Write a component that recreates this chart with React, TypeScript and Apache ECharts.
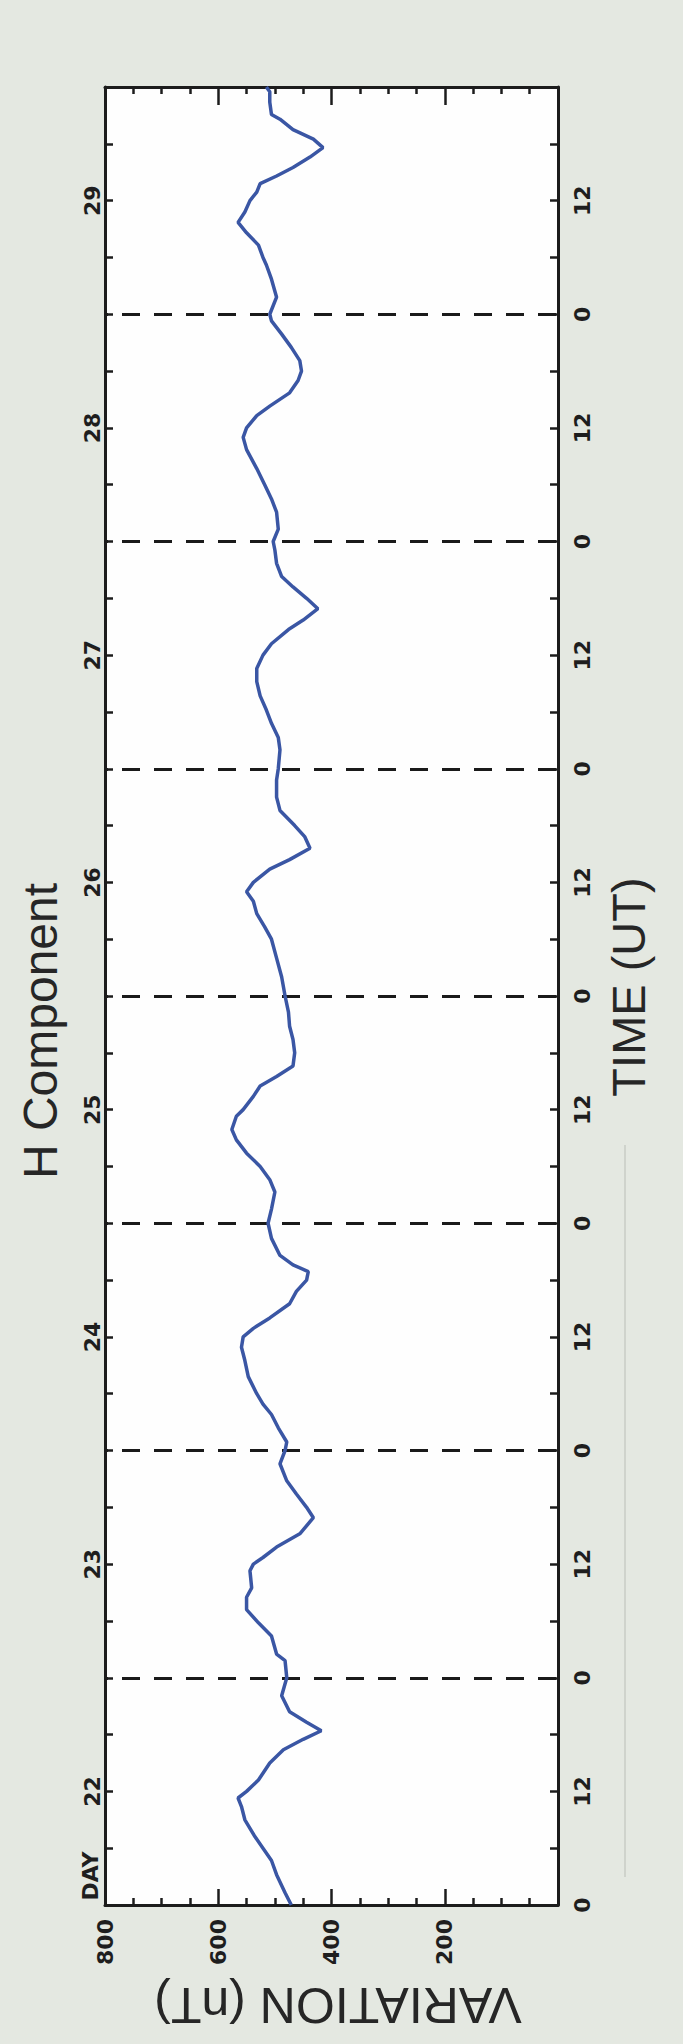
import React, { useEffect, useRef } from 'react';
import * as echarts from 'echarts';

// Time since day 22 00:00 UT, in hours
const hours = [
  0, 1.3, 3.2, 4.7, 6, 7.2, 9.0, 10.4, 11.3, 12, 13.2, 15, 16.4, 17.5, 18.4, 19.3, 20.4, 22.1,
  24, 25.8, 26.5, 28.4, 29.8, 31.2, 32.5, 33.5, 35.3, 36, 36.7, 37.8, 39.2, 40.9, 42, 43.4, 44.8, 46.6,
  48, 48.9, 50.4, 51.8, 52.9, 54, 55.8, 57.5, 58.9, 60, 60.9, 62, 63.5, 64.8, 66, 66.9, 67.6, 68.6, 70.4,
  72, 73.5, 75.3, 76.6, 78, 79.4, 80.8, 81.9, 83.3, 84, 85.4, 86.5, 87.5, 88.6, 90, 91.4, 92.8, 94.3,
  96, 98, 100, 102, 103.3, 104.7, 106, 107, 108, 109.4, 110.4, 111.6, 112.8, 114, 115.6, 117, 118.8,
  120, 122, 123.3, 124.8, 126.2, 127.7, 129.2, 130.6, 132, 133.2, 134.7, 135.7, 136.9, 138, 139.2, 140.3, 141.7, 143.1,
  144, 145.3, 147.1, 148.5, 150, 151.7, 153.7, 155, 156, 157.3, 158.3, 159.7, 161, 162, 163.1, 164.5, 165.9, 167.3,
  168, 169.8, 171.7, 173.2, 174, 175.3, 176.6, 177.7, 178.8, 180, 180.9, 181.8, 182.6, 183.5, 184.6, 185.6, 186.5, 187.5, 188.6, 189.1, 190.4, 191.5, 192
];

// H component variation (nT)
const nT = [
  471, 482, 497, 506, 521, 535, 553, 559, 565, 550, 529, 509, 485, 450, 418, 444, 474, 488,
  479, 482, 497, 506, 529, 550, 550, 541, 544, 538, 521, 497, 456, 432, 444, 462, 479, 491,
  482, 479, 494, 506, 521, 532, 547, 553, 559, 556, 538, 509, 474, 462, 444, 441, 468, 491, 506,
  512, 506, 500, 509, 526, 550, 568, 576, 568, 556, 538, 526, 497, 468, 465, 468, 474, 476,
  482, 488, 497, 506, 518, 532, 538, 550, 538, 509, 474, 438, 447, 465, 491, 497, 497,
  494, 491, 494, 506, 515, 526, 532, 532, 521, 506, 476, 450, 424, 444, 468, 488, 497, 500,
  503, 494, 497, 506, 518, 532, 550, 556, 550, 532, 509, 474, 459, 453, 456, 471, 488, 506,
  509, 497, 506, 515, 521, 529, 550, 565, 553, 544, 532, 526, 497, 468, 438, 415, 432, 468, 491, 506, 509, 509, 515
];

const dayLabels = ['22', '23', '24', '25', '26', '27', '28', '29'];
const hourLabels = ['0', '12'];

export default function App() {
  const ref = useRef<HTMLDivElement>(null);

  useEffect(() => {
    const chart = echarts.init(ref.current as HTMLDivElement, null, { renderer: 'svg' });
    const axisColor = '#1c1c1c';
    const tickFont = {
      fontFamily: 'DejaVu Sans',
      fontWeight: 'bold' as const,
      fontSize: 22,
      color: '#1e1e1e',
    };
    const axisLine = { show: true, onZero: false, lineStyle: { color: axisColor, width: 3 } };
    const nameFont = 'Liberation Sans';

    chart.setOption({
      animation: false,
      backgroundColor: '#e4e8e1',
      grid: {
        left: 105,
        right: 125,
        top: 87,
        bottom: 139,
        show: true,
        backgroundColor: '#fefefe',
        borderWidth: 0,
      },
      xAxis: [
        {
          type: 'value',
          position: 'bottom',
          min: 0,
          max: 800,
          interval: 200,
          inverse: true,
          axisLine,
          axisTick: { show: true, inside: true, length: 16, lineStyle: { color: axisColor, width: 2.5 } },
          minorTick: { show: true, splitNumber: 4, length: 7, lineStyle: { color: axisColor, width: 2.5 } },
          splitLine: { show: false },
          minorSplitLine: { show: false },
          axisLabel: {
            rotate: 90,
            margin: 14,
            ...tickFont,
            formatter: (v: number) => (v === 0 ? '' : String(v)),
          },
        },
        {
          type: 'value',
          position: 'top',
          min: 0,
          max: 800,
          interval: 200,
          inverse: true,
          axisLine,
          axisTick: { show: true, inside: true, length: 18, lineStyle: { color: axisColor, width: 2.5 } },
          minorTick: { show: true, splitNumber: 4, length: 7, lineStyle: { color: axisColor, width: 2.5 } },
          splitLine: { show: false },
          axisLabel: { show: false },
        },
      ],
      yAxis: [
        {
          type: 'value',
          position: 'right',
          min: 0,
          max: 192,
          interval: 6,
          axisLine,
          axisTick: { show: true, inside: true, length: 8, lineStyle: { color: axisColor, width: 2.5 } },
          splitLine: { show: false },
          axisLabel: {
            rotate: 90,
            margin: 13,
            ...tickFont,
            formatter: (v: number) => (v % 12 === 0 && v < 192 ? hourLabels[(v % 24) / 12] : ''),
          },
        },
        {
          type: 'value',
          position: 'left',
          min: 0,
          max: 192,
          interval: 6,
          axisLine,
          axisTick: { show: true, inside: true, length: 8, lineStyle: { color: axisColor, width: 2.5 } },
          splitLine: { show: false },
          axisLabel: {
            rotate: 90,
            margin: 2,
            ...tickFont,
            formatter: (v: number) => (v % 24 === 12 ? dayLabels[(v - 12) / 24] : ''),
          },
        },
        {
          type: 'value',
          position: 'left',
          min: 0,
          max: 192,
          interval: 24,
          axisLine: { show: false },
          axisTick: { show: false },
          axisLabel: { show: false },
          splitLine: {
            show: true,
            lineStyle: { type: [18, 14], dashOffset: 15, color: '#1a1a1a', width: 3 },
          },
        },
      ],
      series: [
        {
          type: 'line',
          xAxisIndex: 0,
          yAxisIndex: 0,
          data: hours.map((h, i) => [nT[i], h]),
          showSymbol: false,
          symbol: 'none',
          lineStyle: { color: '#3a56a4', width: 3.5 },
          z: 5,
        },
      ],
      graphic: [
        {
          type: 'text',
          x: 40,
          y: 1031,
          rotation: Math.PI / 2,
          style: {
            text: 'H Component',
            fontFamily: nameFont,
            fontSize: 48,
            fill: '#262626',
            align: 'center',
            verticalAlign: 'middle',
          },
        },
        {
          type: 'text',
          x: 628,
          y: 987,
          rotation: Math.PI / 2,
          style: {
            text: 'TIME (UT)',
            fontFamily: nameFont,
            fontSize: 47,
            fill: '#262626',
            align: 'center',
            verticalAlign: 'middle',
          },
        },
        {
          type: 'text',
          x: 338,
          y: 2005,
          rotation: Math.PI,
          style: {
            text: 'VARIATION (nT)',
            fontFamily: nameFont,
            fontSize: 50,
            fill: '#262626',
            align: 'center',
            verticalAlign: 'middle',
          },
        },
        {
          type: 'text',
          x: 90,
          y: 1876,
          rotation: Math.PI / 2,
          style: {
            text: 'DAY',
            fontFamily: 'DejaVu Sans',
            fontWeight: 'bold',
            fontSize: 22,
            fill: '#1e1e1e',
            align: 'center',
            verticalAlign: 'middle',
          },
        },
        {
          type: 'line',
          shape: { x1: 625, y1: 1145, x2: 625, y2: 1877 },
          style: { stroke: '#c8ccc5', lineWidth: 1.5 },
        },
      ],
    });

    return () => chart.dispose();
  }, []);

  return (
    <div
      ref={ref}
      style={{ position: 'absolute', left: 0, top: 0, width: 683, height: 2044 }}
    />
  );
}
